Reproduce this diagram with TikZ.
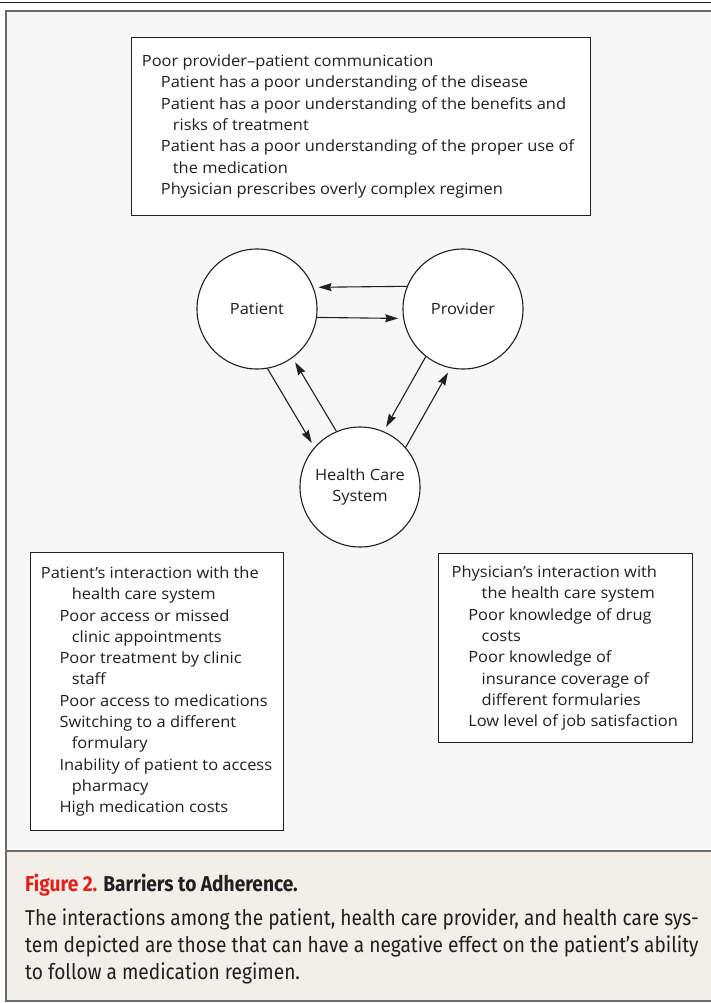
\documentclass[tikz,border=0pt]{standalone}
\usepackage{fontspec}
\setmainfont[FakeStretch=1.06]{Open Sans}
\newfontfamily\capfont[FakeStretch=0.89]{Fira Sans}
\usetikzlibrary{arrows.meta,calc}
\definecolor{figbg}{HTML}{F7F7F7}
\definecolor{capbg}{HTML}{F2EEE8}
\definecolor{framegray}{HTML}{6A6A6A}
\definecolor{ink}{HTML}{231F20}
\definecolor{nejmred}{HTML}{E0201B}
\tikzset{
  circ/.style={circle, draw=ink, line width=1.1pt, fill=white, minimum size=120pt, inner sep=0pt,
    font=\fontsize{15.5}{21}\selectfont, text=ink, align=center},
  panel/.style={draw=ink, line width=1.1pt, fill=white, inner sep=0pt},
  listtext/.style={align=left, inner sep=0pt, font=\fontsize{15.5}{21.3}\selectfont, text=ink},
  arr/.style={-{Stealth[length=13pt,width=8pt,inset=1.5pt]}, line width=1.1pt, draw=ink, shorten >=5pt},
  captext/.style={align=left, inner sep=0pt, font=\capfont\fontsize{21.5}{27}\selectfont, text=ink}
}
\begin{document}
\begin{tikzpicture}[x=1pt,y=-1pt]
\useasboundingbox (0,0) rectangle (711,1003);
\fill[white] (0,0) rectangle (711,1003);
\draw[ink, line width=1.2pt] (0,2.5) -- (711,2.5);
\fill[figbg] (6,11) rectangle (711,850);
\fill[capbg] (6,850) rectangle (711,1001);
\draw[framegray, line width=2pt] (711,11) -- (6,11) -- (6,1001) -- (711,1001);
\draw[framegray, line width=2pt] (6,850.5) -- (711,850.5);

% top box
\node[panel, anchor=north west, minimum width=459pt, minimum height=178pt] (comm) at (131,37) {};
\node[listtext, anchor=west] (commtext) at ([xshift=10.7pt]comm.west) {Poor provider–patient communication\\
\hspace*{19pt}Patient has a poor understanding of the disease\\
\hspace*{19pt}Patient has a poor understanding of the benefits and\\
\hspace*{31pt}risks of treatment\\
\hspace*{19pt}Patient has a poor understanding of the proper use of\\
\hspace*{31pt}the medication\\
\hspace*{19pt}Physician prescribes overly complex regimen};

% circles
\node[circ] (P) at (257,309) {Patient};
\node[circ] (Pr) at (463,309) {Provider};
\node[circ] (H) at (360,487) {Health Care\\System};

\draw[arr] (Pr.158.5) -- (P.21.5);
\draw[arr] (P.-8.6) -- (Pr.-171.4);
\draw[arr] (P.-80) -- (H.139);
\draw[arr] (H.113) -- (P.-54);
\draw[arr] (Pr.-128) -- (H.67);
\draw[arr] (H.41) -- (Pr.-102);

% bottom left box
\node[panel, anchor=north west, minimum width=253pt, minimum height=278pt] (pat) at (30,552) {};
\node[listtext, anchor=west] (pattext) at ([xshift=10.7pt]pat.west) {Patient’s interaction with the\\
\hspace*{31pt}health care system\\
\hspace*{18.6pt}Poor access or missed\\
\hspace*{31pt}clinic appointments\\
\hspace*{18.6pt}Poor treatment by clinic\\
\hspace*{31pt}staff\\
\hspace*{18.6pt}Poor access to medications\\
\hspace*{18.6pt}Switching to a different\\
\hspace*{31pt}formulary\\
\hspace*{18.6pt}Inability of patient to access\\
\hspace*{31pt}pharmacy\\
\hspace*{18.6pt}High medication costs};

% bottom right box
\node[panel, anchor=north west, minimum width=254pt, minimum height=189pt] (phys) at (437.5,553) {};
\node[listtext, anchor=west] (physttext) at ([xshift=14pt]phys.west) {Physician’s interaction with\\
\hspace*{30pt}the health care system\\
\hspace*{16.6pt}Poor knowledge of drug\\
\hspace*{30pt}costs\\
\hspace*{16.6pt}Poor knowledge of\\
\hspace*{30pt}insurance coverage of\\
\hspace*{30pt}different formularies\\
\hspace*{16.6pt}Low level of job satisfaction};

% caption
\node[anchor=base west, inner sep=0pt, font=\capfont\bfseries\fontsize{21.5}{27}\selectfont, text=ink] (figlabel) at (25,891) {\textcolor{nejmred}{Figure 2.} Barriers to Adherence.};
\node[captext, anchor=north west] (caption) at (25,908.5) {The interactions among the patient, health care provider, and health care sys-\\
tem depicted are those that can have a negative effect on the patient’s ability\\
to follow a medication regimen.};
\end{tikzpicture}
\end{document}
